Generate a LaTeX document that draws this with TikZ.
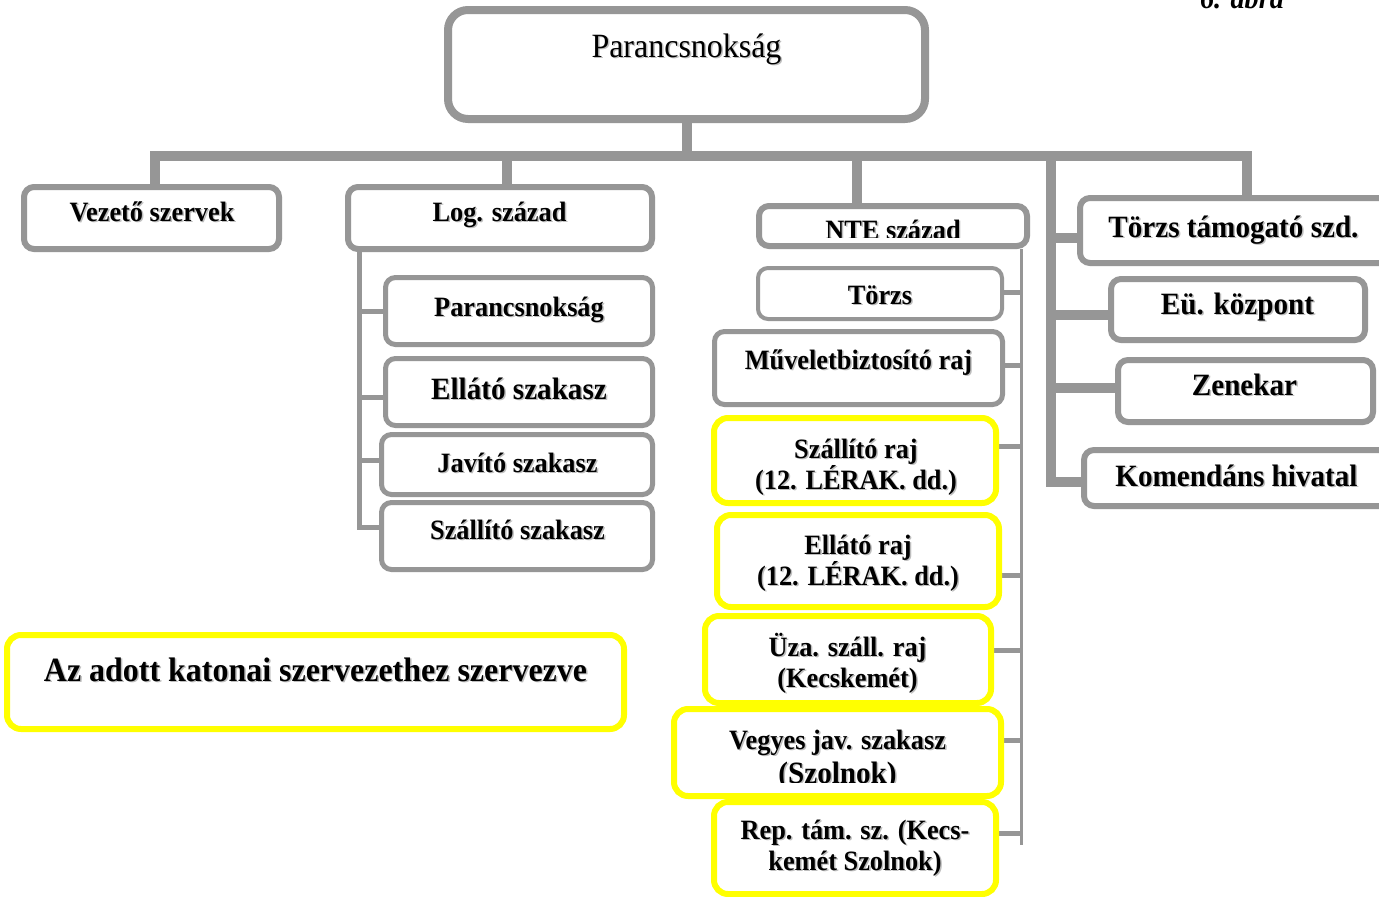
\documentclass[tikz,border=0pt]{standalone}
\usepackage{fontspec}
\setmainfont{Liberation Serif}[FakeStretch=0.94]
\usetikzlibrary{fit,calc}
\definecolor{linegray}{RGB}{150,150,150}
\definecolor{boxyellow}{RGB}{255,255,0}
\definecolor{shadowc}{RGB}{190,190,190}
% text with a soft drop shadow
\newcommand\sh[1]{\leavevmode\rlap{\kern1.5pt\raisebox{-1.5pt}{\textcolor{shadowc}{#1}}}#1}
% fixed height for the first line of two-line labels
\newcommand\fst{\rule{0pt}{0.95em}}
\pgfdeclarelayer{paper}
\pgfdeclarelayer{wires}
\pgfsetlayers{paper,wires,main}
% keep the line distance fixed in two-line labels
\lineskiplimit=-100pt

\begin{document}
\begin{tikzpicture}[x=1pt,y=-1pt,
  gbox/.style={draw=linegray, fill=white, rounded corners=10pt, inner sep=0pt, line width=5pt},
  ybox/.style={draw=boxyellow, fill=white, rounded corners=14pt, inner sep=0pt, line width=6pt},
  bus/.style={draw=linegray, line width=10pt},
  sub/.style={draw=linegray, line width=5pt},
  thinline/.style={draw=linegray, line width=3pt},
  tA/.style={font=\fontsize{28}{31}\selectfont\bfseries},
  tB/.style={font=\fontsize{31}{34}\selectfont\bfseries},
  tC/.style={font=\fontsize{34}{37}\selectfont\bfseries},
  tR/.style={font=\fontsize{34}{37}\selectfont},
  lab/.style={anchor=base, inner sep=0pt},
  labtwo/.style={anchor=north, inner sep=0pt, align=center},
]
\useasboundingbox (0,0) rectangle (1379,897);
\begin{pgfonlayer}{paper}
  \fill[white] (0,0) rectangle (1379,897);
\end{pgfonlayer}

% ---- boxes ----
\node[gbox, line width=8pt, rounded corners=20pt, fit={(448,10) (925,119)}] (top) {};
\node[gbox, line width=6pt, fit={(24,187) (279,249)}] (vez) {};
\node[gbox, line width=6pt, fit={(348,187) (652,249)}] (log) {};
\node[gbox, line width=6pt, fit={(759,206) (1027,246)}] (nte) {};
\node[gbox, line width=6pt, fit={(1080,198) (1400,263)}] (tts) {};
\node[gbox, line width=6pt, fit={(1111,279) (1365,340)}] (eu) {};
\node[gbox, line width=6pt, fit={(1118,360) (1373,422)}] (zen) {};
\node[gbox, line width=6pt, fit={(1084,450) (1400,506)}] (kom) {};

\node[gbox, fit={(385.5,277.5) (652.5,344.5)}] (lpar) {};
\node[gbox, fit={(385.5,358.5) (652.5,425.5)}] (lell) {};
\node[gbox, fit={(381.5,434.5) (652.5,494.5)}] (ljav) {};
\node[gbox, fit={(381.5,502.5) (652.5,569.5)}] (lszal) {};

\node[gbox, line width=4pt, fit={(758,268) (1002,319)}] (ntorzs) {};
\node[gbox, fit={(714.5,331.5) (1002.5,404.5)}] (nmuv) {};
\node[ybox, fit={(714,418) (996,503)}] (yszal) {};
\node[ybox, fit={(717,515) (999,607)}] (yell) {};
\node[ybox, fit={(705,616) (991,703)}] (yuza) {};
\node[ybox, fit={(674,709) (1001,796)}] (yveg) {};
\node[ybox, fit={(714,802) (996,894)}] (yrep) {};

\node[ybox, fit={(7,635) (624,729)}] (yaz) {};

% ---- connectors ----
\begin{pgfonlayer}{wires}
  \coordinate (busy) at (0,156);
  \coordinate (vzs) at ($(vez.north)+(3.5,0)$);
  \coordinate (ttsx) at ($(tts.north west)+(170,0)$);
  \coordinate (logs) at ($(log.north)+(7,0)$);
  \coordinate (ntes) at ($(nte.north)+(-36,0)$);
  \draw[bus] (vzs) -- (vzs |- busy) -- (ttsx |- busy) -- (ttsx);
  \draw[bus] (top.south) -- (top.south |- busy);
  \draw[bus] (logs) -- (logs |- busy);
  \draw[bus] (ntes) -- (ntes |- busy);

  % right-hand trunk
  \coordinate (rt) at (1051,156);
  \coordinate (ttsb) at ($(tts.west)+(0,7.5)$);
  \coordinate (eub) at ($(eu.west)+(0,5.5)$);
  \coordinate (zenb) at ($(zen.west)+(0,-3)$);
  \coordinate (komb) at ($(kom.west)+(0,4)$);
  \draw[bus] (rt) -- (rt |- komb) -- (komb);
  \draw[bus] (rt |- ttsb) -- (ttsb);
  \draw[bus] (rt |- eub) -- (eub);
  \draw[bus] (rt |- zenb) -- (zenb);

  % logistics company trunk
  \coordinate (lt) at (359,0);
  \coordinate (lparb) at (lpar.west);
  \coordinate (lellb) at ($(lell.west)+(0,5)$);
  \coordinate (ljavb) at ($(ljav.west)+(0,-4.5)$);
  \coordinate (lszalb) at ($(lszal.west)+(0,-9)$);
  \draw[sub] (lt |- log.south) -- (lt |- lszalb) -- (lszalb);
  \draw[sub] (lt |- lparb) -- (lparb);
  \draw[sub] (lt |- lellb) -- (lellb);
  \draw[sub] (lt |- ljavb) -- (ljavb);

  % NTE company trunk
  \coordinate (ntend) at (1021,845);
  \draw[thinline] (ntend |- nte.south) -- (ntend);
  \foreach \n/\d in {ntorzs/-1.5, nmuv/-3, yszal/-14.5, yell/14, yuza/-9.5, yveg/-12.5, yrep/-15}{
    \coordinate (\n br) at ($(\n.east)+(0,\d)$);
    \draw[sub] (\n br) -- (\n br -| ntend);
  }
\end{pgfonlayer}

% ---- labels ----
\node[lab, tR] (tPar) at (686.5,57) {\sh{Parancsnokság}};
\node[lab, tA] (tVez) at (152,221) {\sh{Vezető szervek}};
\node[lab, tA] (tLog) at (499.5,221) {\sh{Log. század}};
\begin{scope}
  \clip (750,200) rectangle (1035,237);
  \node[lab, tA] (tNte) at (893,239) {\sh{NTE század}};
\end{scope}
\node[lab, tB] (tTts) at (1233.5,237) {\sh{Törzs támogató szd.}};
\node[lab, tB] (tEu) at (1237.5,314) {\sh{Eü. központ}};
\node[lab, tB] (tZen) at (1244.5,395) {\sh{Zenekar}};
\node[lab, tB] (tKom) at (1236.5,486) {\sh{Komendáns hivatal}};

\node[lab, tA] (tLpar) at (519,316) {\sh{Parancsnokság}};
\node[lab, tB] (tLell) at (519,399) {\sh{Ellátó szakasz}};
\node[lab, tA] (tLjav) at (517.5,472) {\sh{Javító szakasz}};
\node[lab, tA] (tLszal) at (517.5,539) {\sh{Szállító szakasz}};

\node[lab, tA] (tNtorzs) at (880,304) {\sh{Törzs}};
\node[lab, tA] (tNmuv) at (858.5,369) {\sh{Műveletbiztosító raj}};
\node[labtwo, tA] (tYszal) at (856,431.4) {\fst\sh{Szállító raj}\\\sh{(12. LÉRAK. dd.)}};
\node[labtwo, tA] (tYell) at (858,527.4) {\fst\sh{Ellátó raj}\\\sh{(12. LÉRAK. dd.)}};
\node[labtwo, tA] (tYuza) at (847.5,629.4) {\fst\sh{Üza. száll. raj}\\\sh{(Kecskemét)}};
\begin{scope}
  \clip (672,705) rectangle (1004,782);
  \node[labtwo, tA] (tYveg) at (837.5,722.4) {\fst\sh{Vegyes jav. szakasz}\\[3pt]{\fontsize{31}{31}\selectfont\sh{(Szolnok)}}};
\end{scope}
\node[labtwo, tA] (tYrep) at (855,812.4) {\fst\sh{Rep. tám. sz. (Kecs-}\\\sh{kemét Szolnok)}};

\node[lab, tC] (tAz) at (315.5,681) {\sh{Az adott katonai szervezethez szervezve}};

\node[lab, font=\fontsize{30}{32}\selectfont\bfseries\itshape] (fig) at (1242,8) {6. ábra};
\end{tikzpicture}
\end{document}
